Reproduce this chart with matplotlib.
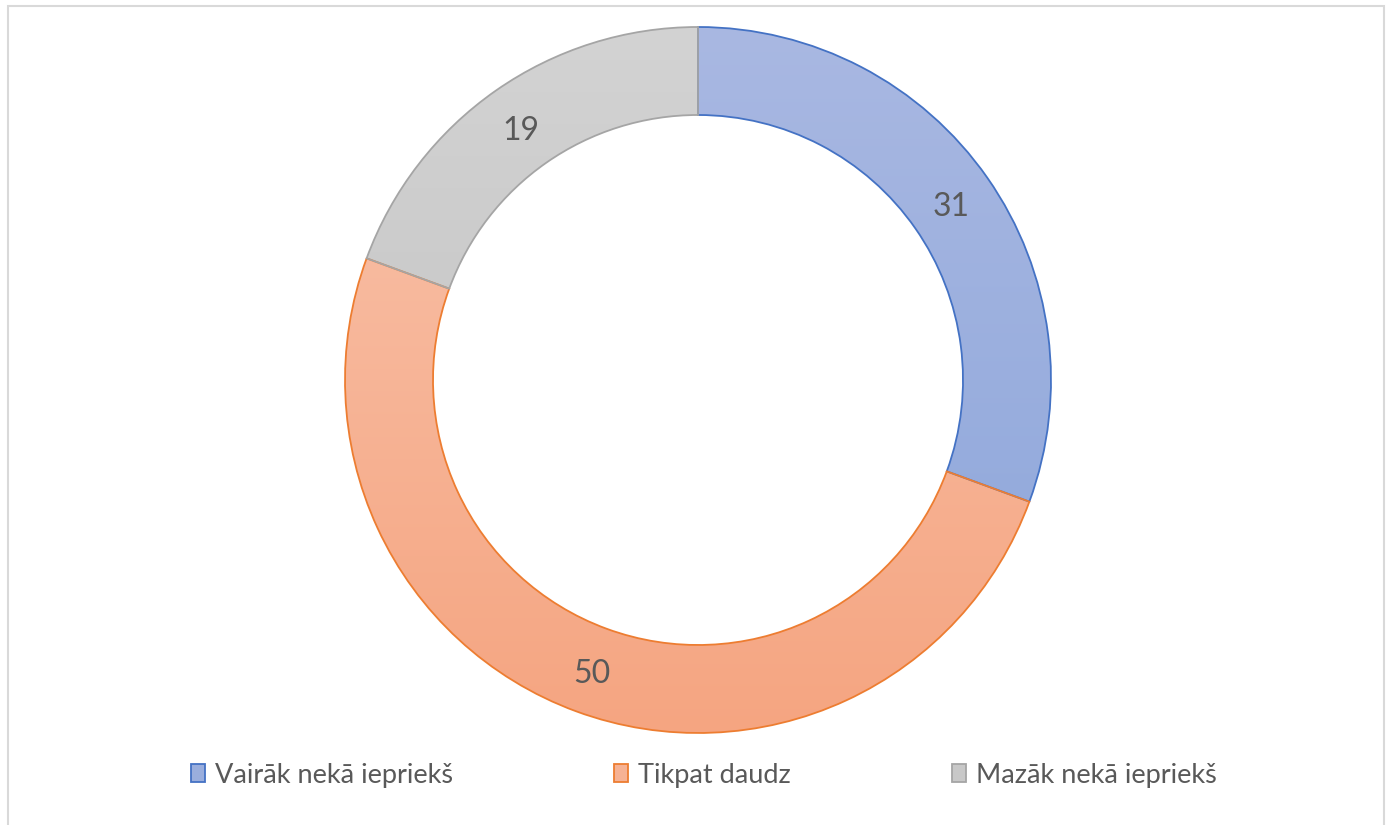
import matplotlib
matplotlib.use("Agg")
import matplotlib.pyplot as plt
import numpy as np
from matplotlib.patches import Rectangle, Patch
from matplotlib.colors import LinearSegmentedColormap

categories = ["Vairāk nekā iepriekš", "Tikpat daudz", "Mazāk nekā iepriekš"]
values = [30.6, 50.0, 19.4]
edge_colors = ["#4472c4", "#ed7d31", "#a5a5a5"]
grad_top = ["#a9b8e2", "#f9c4ad", "#d3d3d3"]
grad_bottom = ["#8ba5da", "#f5a581", "#bdbdbd"]
legend_colors = ["#9aaedd", "#f6b294", "#c8c8c8"]

plt.rcParams["font.family"] = ["Lato", "DejaVu Sans"]

W, H = 1391, 825
fig = plt.figure(figsize=(W / 100, H / 100), dpi=100)
fig.patch.set_facecolor("white")

cx, cy, R, r_in = 698, 380, 353, 265
ax = fig.add_axes([(cx - R) / W, (H - cy - R) / H, 2 * R / W, 2 * R / H])

wedges, _ = ax.pie(values, startangle=90, counterclock=False, radius=1,
                   wedgeprops=dict(width=(R - r_in) / R, facecolor="none",
                                   linewidth=1.3))
ax.set_aspect("equal")
ax.axis("off")

grad = np.linspace(1, 0, 256).reshape(-1, 1)
for w, ec, t, b in zip(wedges, edge_colors, grad_top, grad_bottom):
    w.set_edgecolor(ec)
    w.set_zorder(5)
    cmap = LinearSegmentedColormap.from_list("g", [b, t])
    im = ax.imshow(grad, extent=[-1, 1, -1, 1], cmap=cmap, aspect="auto",
                   origin="upper", zorder=2, interpolation="bicubic")
    im.set_clip_path(w)
ax.set_xlim(-1, 1)
ax.set_ylim(-1, 1)

# data labels at mid-ring
mid_r = (R + r_in) / 2 / R
cum = 0
for v in values:
    ang = np.deg2rad(90 - (cum + v / 2) / sum(values) * 360)
    ax.text(mid_r * np.cos(ang), mid_r * np.sin(ang) - 0.011, f"{v:.0f}", ha="center",
            va="center", fontsize=23, color="#595959", zorder=10)
    cum += v

handles = [Patch(facecolor=c, edgecolor=e, linewidth=1.3)
           for c, e in zip(legend_colors, edge_colors)]
leg = fig.legend(handles, categories, loc="center", bbox_to_anchor=(704 / W, 1 - 775 / H),
                 ncol=3, frameon=False, fontsize=19.5, labelcolor="#595959",
                 handlelength=0.52, handleheight=0.6, handletextpad=0.37,
                 columnspacing=5.95)

fig.patches.append(Rectangle((8 / W, -0.05), (1384 - 8) / W, 1.05 - 6 / H,
                             transform=fig.transFigure, fill=False,
                             edgecolor="#d9d9d9", linewidth=1.5))

fig.savefig("out.png", dpi=100)
